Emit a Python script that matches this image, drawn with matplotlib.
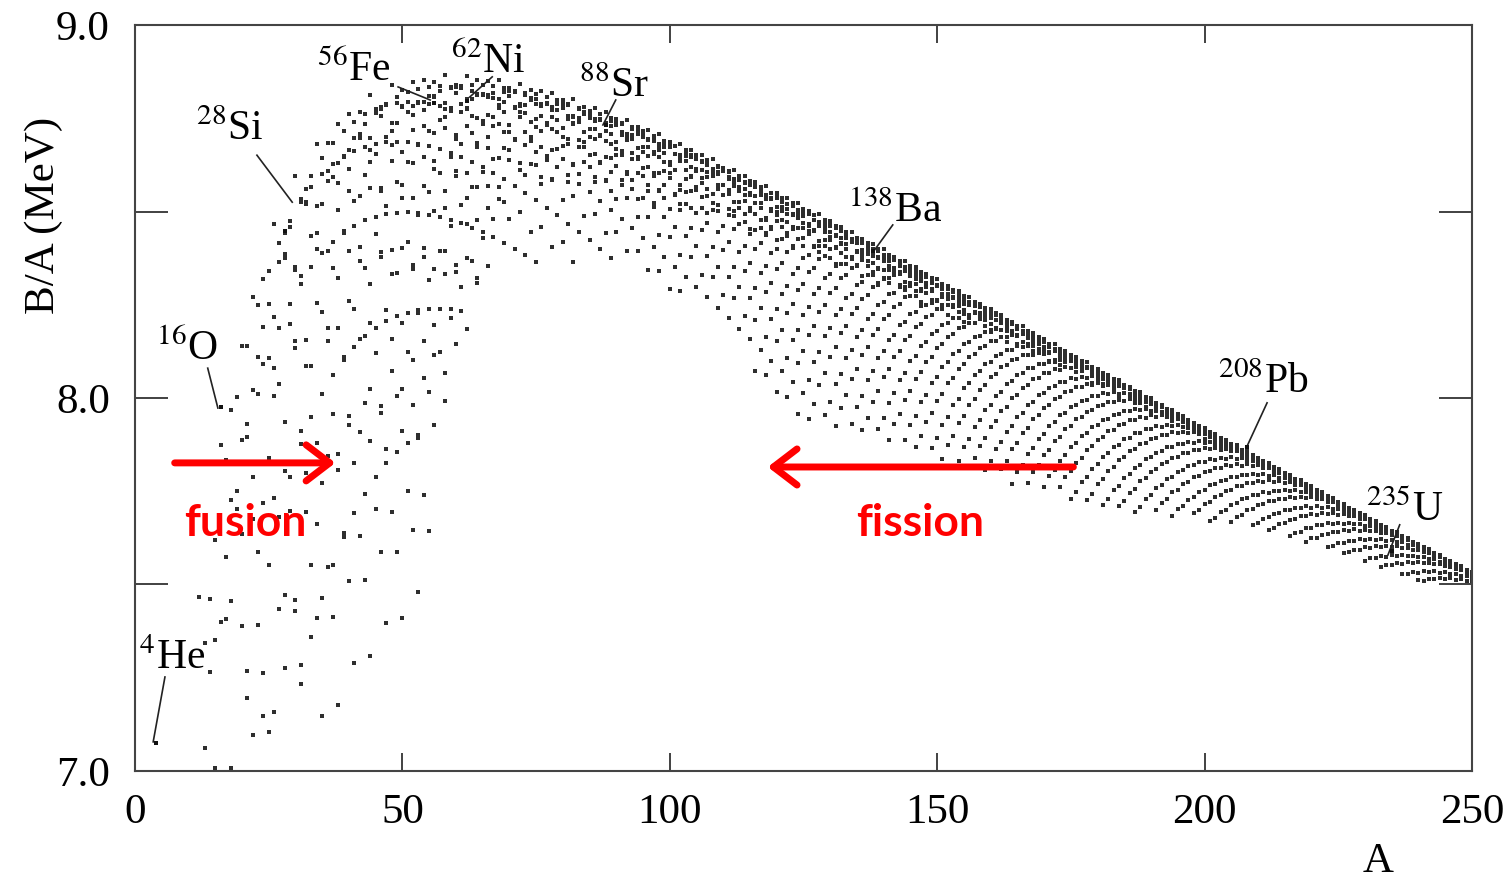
import numpy as np
import matplotlib.pyplot as plt
from matplotlib.patches import FancyArrowPatch

plt.rcParams['font.family'] = ['Liberation Serif', 'DejaVu Serif']
plt.rcParams['mathtext.fontset'] = 'stix'

# labelled nuclides: mass number, B/A (MeV)
label_names = ['He', 'O', 'Si', 'Fe', 'Ni', 'Sr', 'Ba', 'Pb', 'U']
label_A = [4, 16, 28, 56, 62, 88, 138, 208, 235]
label_BA = [7.074, 7.976, 8.448, 8.790, 8.795, 8.733, 8.393, 7.868, 7.591]

# semi-empirical mass formula coefficients (MeV) for the rest of the chart
a_vol, a_surf, a_coul, a_asym, a_pair = 15.75, 17.8, 0.711, 23.7, 11.18
z_values = np.arange(3, 101)
# how far the known nuclides reach towards the drip lines (S2p/2, S2n/2 cuts, MeV)
z_knots = [20, 28, 34, 46, 54, 60, 78, 84, 92, 100]
sp_knots = [-1.0, -1.0, 1.5, 1.5, 0.5, -1.3, -1.3, -1.0, 0.6, 1.6]
zn_knots = [10, 18, 22, 28, 100]
sn_knots = [0.0, 0.5, 2.5, 5.0, 5.5]


def binding(z, n):
    a = z + n
    b = a_vol * a - a_surf * a ** (2 / 3) - a_coul * z * (z - 1) / a ** (1 / 3) \
        - a_asym * (n - z) ** 2 / a
    if z % 2 == 0 and n % 2 == 0:
        b += a_pair / np.sqrt(a)
    elif z % 2 == 1 and n % 2 == 1:
        b -= a_pair / np.sqrt(a)
    return b


mass_num = []
ba = []
for z in z_values:
    sn_cut = np.interp(z, zn_knots, sn_knots)
    p_cut = np.interp(z, z_knots, sp_knots)
    for n in range(max(2, z // 2), 3 * z + 12):
        a = z + n
        if a < 10:
            continue
        b = binding(z, n)
        s2p = (b - binding(z - 2, n)) / 2 if z > 2 else 99
        s2n = (b - binding(z, n - 2)) / 2
        if s2p > p_cut and s2n > sn_cut:
            mass_num.append(a)
            ba.append(b / a)

fig = plt.figure(figsize=(15.05, 8.81), dpi=100)
ax = fig.add_axes([0.0897, 0.1249, 0.8883, 0.8467])

ax.scatter(mass_num, ba, s=5, marker='s', color='#2e2e2e', linewidths=0)
ax.scatter(label_A, label_BA, s=10, marker='s', color='#111111', linewidths=0, zorder=3)

ax.set_xlim(0, 250)
ax.set_ylim(7.0, 9.0)
ax.set_xticks([0, 50, 100, 150, 200, 250])
ax.set_yticks([7.0, 7.5, 8.0, 8.5, 9.0])
ax.set_yticklabels(['7.0', '', '8.0', '', '9.0'])
ax.tick_params(axis='both', direction='in', top=True, right=True, labelsize=31,
               width=1.3, color='#333333')
ax.tick_params(axis='x', length=13, pad=16)
ax.tick_params(axis='y', length=24, pad=18)
for sp in ax.spines.values():
    sp.set_color('#444444')
    sp.set_linewidth(1.5)

ax.set_ylabel('B/A (MeV)', fontsize=31)
ax.yaxis.set_label_coords(-0.054, 0.745)
ax.set_xlabel('A', fontsize=31, va='center')
ax.xaxis.set_label_coords(0.93, -0.122)

# labels with leader lines (text pos, line start, line end)
label_layout = [
    ((6.9, 7.30), (5.6, 7.252), (3.4, 7.078)),
    ((9.7, 8.13), (13.6, 8.080), (15.5, 7.973)),
    ((17.8, 8.72), (22.8, 8.651), (29.4, 8.525)),
    ((41.0, 8.88), (49.2, 8.834), (55.2, 8.799)),
    ((66.0, 8.90), (66.8, 8.861), (62.6, 8.807)),
    ((89.6, 8.835), (89.9, 8.799), (87.5, 8.732)),
    ((142.1, 8.50), (141.7, 8.464), (138.0, 8.391)),
    ((210.9, 8.04), (211.7, 7.987), (207.9, 7.869)),
    ((237.5, 7.70), (236.5, 7.660), (234.3, 7.579)),
]
for name, a, (tpos, l0, l1) in zip(label_names, label_A, label_layout):
    ax.text(tpos[0], tpos[1], r'$^{%d}$' % a + name, fontsize=30,
            ha='center', va='center')
    ax.plot([l0[0], l1[0]], [l0[1], l1[1]], color='#222222', lw=1.2)

# fusion / fission arrows
for x0, x1, y in [(6.9, 38.0, 7.826), (176.0, 117.8, 7.815)]:
    arr = FancyArrowPatch((x0, y), (x1, y),
                          arrowstyle='->,head_length=17,head_width=13',
                          mutation_scale=1, color='red', lw=5,
                          capstyle='round', joinstyle='round')
    ax.add_patch(arr)
ax.text(20.6, 7.665, 'fusion', color='red', fontsize=32, fontweight='bold',
        family='Lato', ha='center', va='center')
ax.text(146.8, 7.665, 'fission', color='red', fontsize=32, fontweight='bold',
        family='Lato', ha='center', va='center')

fig.savefig('out.png', dpi=100)
